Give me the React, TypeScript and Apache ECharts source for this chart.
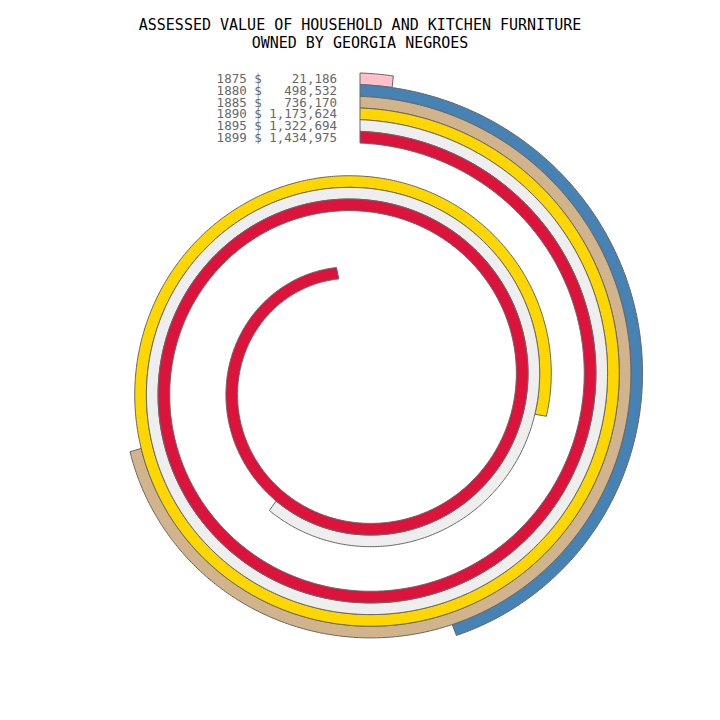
import { useEffect, useRef } from "react";
import * as echarts from "echarts";

const years = ["1875", "1880", "1885", "1890", "1895", "1899"];
const values = [21186, 498532, 736170, 1173624, 1322694, 1434975];
const colors = ["#ffc0cb", "#4682b4", "#d2b48c", "#ffd700", "#eeeeee", "#dc143c"];

// spiral geometry, in pixels (axes are 1 unit = 1 px)
const OUTER = 311; // outer edge of the first band at 12 o'clock
const BAND = 11.67; // band width
const PITCH = 68 / (2 * Math.PI); // radius lost per radian turned
const PER_PX = 645; // dollars per pixel of arc along the band's middle

const MONO = "DejaVu Sans Mono";

function SpiralChart() {
  const chartRef = useRef(null);

  useEffect(() => {
    const chart = echarts.init(chartRef.current, null, { renderer: "svg" });

    const option = {
      animation: false,
      title: {
        text: "ASSESSED VALUE OF HOUSEHOLD AND KITCHEN FURNITURE\nOWNED BY GEORGIA NEGROES",
        left: "center",
        top: 11,
        textStyle: {
          fontFamily: MONO,
          fontSize: 15,
          fontWeight: "normal",
          color: "#000",
          lineHeight: 18,
        },
      },
      grid: { left: 0, right: 0, top: 0, bottom: 0 },
      xAxis: { type: "value", min: -360, max: 360, show: false },
      yAxis: { type: "value", min: -336, max: 384, show: false },
      series: [
        {
          type: "custom",
          coordinateSystem: "cartesian2d",
          data: values.map((v, i) => [i, v]),
          renderItem: (params, api) => {
            const i = params.dataIndex;
            const v = api.value(1);
            const mid = OUTER - BAND * (i + 0.5);
            const len = v / PER_PX;
            const end = (mid - Math.sqrt(mid * mid - 2 * PITCH * len)) / PITCH;
            const steps = Math.max(2, Math.ceil(end / 0.01));
            const pts = [];
            for (let s = 0; s <= steps; s++) {
              const t = (end * s) / steps;
              const r = mid + BAND / 2 - PITCH * t;
              pts.push(api.coord([r * Math.sin(t), r * Math.cos(t)]));
            }
            for (let s = steps; s >= 0; s--) {
              const t = (end * s) / steps;
              const r = mid - BAND / 2 - PITCH * t;
              pts.push(api.coord([r * Math.sin(t), r * Math.cos(t)]));
            }
            const yearPos = api.coord([-143.4, mid]);
            const valPos = api.coord([-23, mid]);
            const textStyle = {
              fontFamily: MONO,
              fontSize: 12.5,
              lineHeight: 11,
              fill: "#666",
              verticalAlign: "middle",
            };
            return {
              type: "group",
              children: [
                {
                  type: "polygon",
                  shape: { points: pts },
                  style: { fill: colors[i], stroke: "#666", lineWidth: 1 },
                },
                {
                  type: "text",
                  x: yearPos[0],
                  y: yearPos[1],
                  style: { ...textStyle, text: `${years[i]} $`, align: "left" },
                },
                {
                  type: "text",
                  x: valPos[0],
                  y: valPos[1],
                  style: {
                    ...textStyle,
                    text: v.toLocaleString("en-US"),
                    align: "right",
                  },
                },
              ],
            };
          },
        },
      ],
    };

    chart.setOption(option);

    return () => {
      chart.dispose();
    };
  }, []);

  return (
    <div
      ref={chartRef}
      style={{ position: "fixed", left: 0, top: 0, width: "720px", height: "720px", background: "#fff" }}
    />
  );
}

export default function App() {
  return <SpiralChart />;
}
